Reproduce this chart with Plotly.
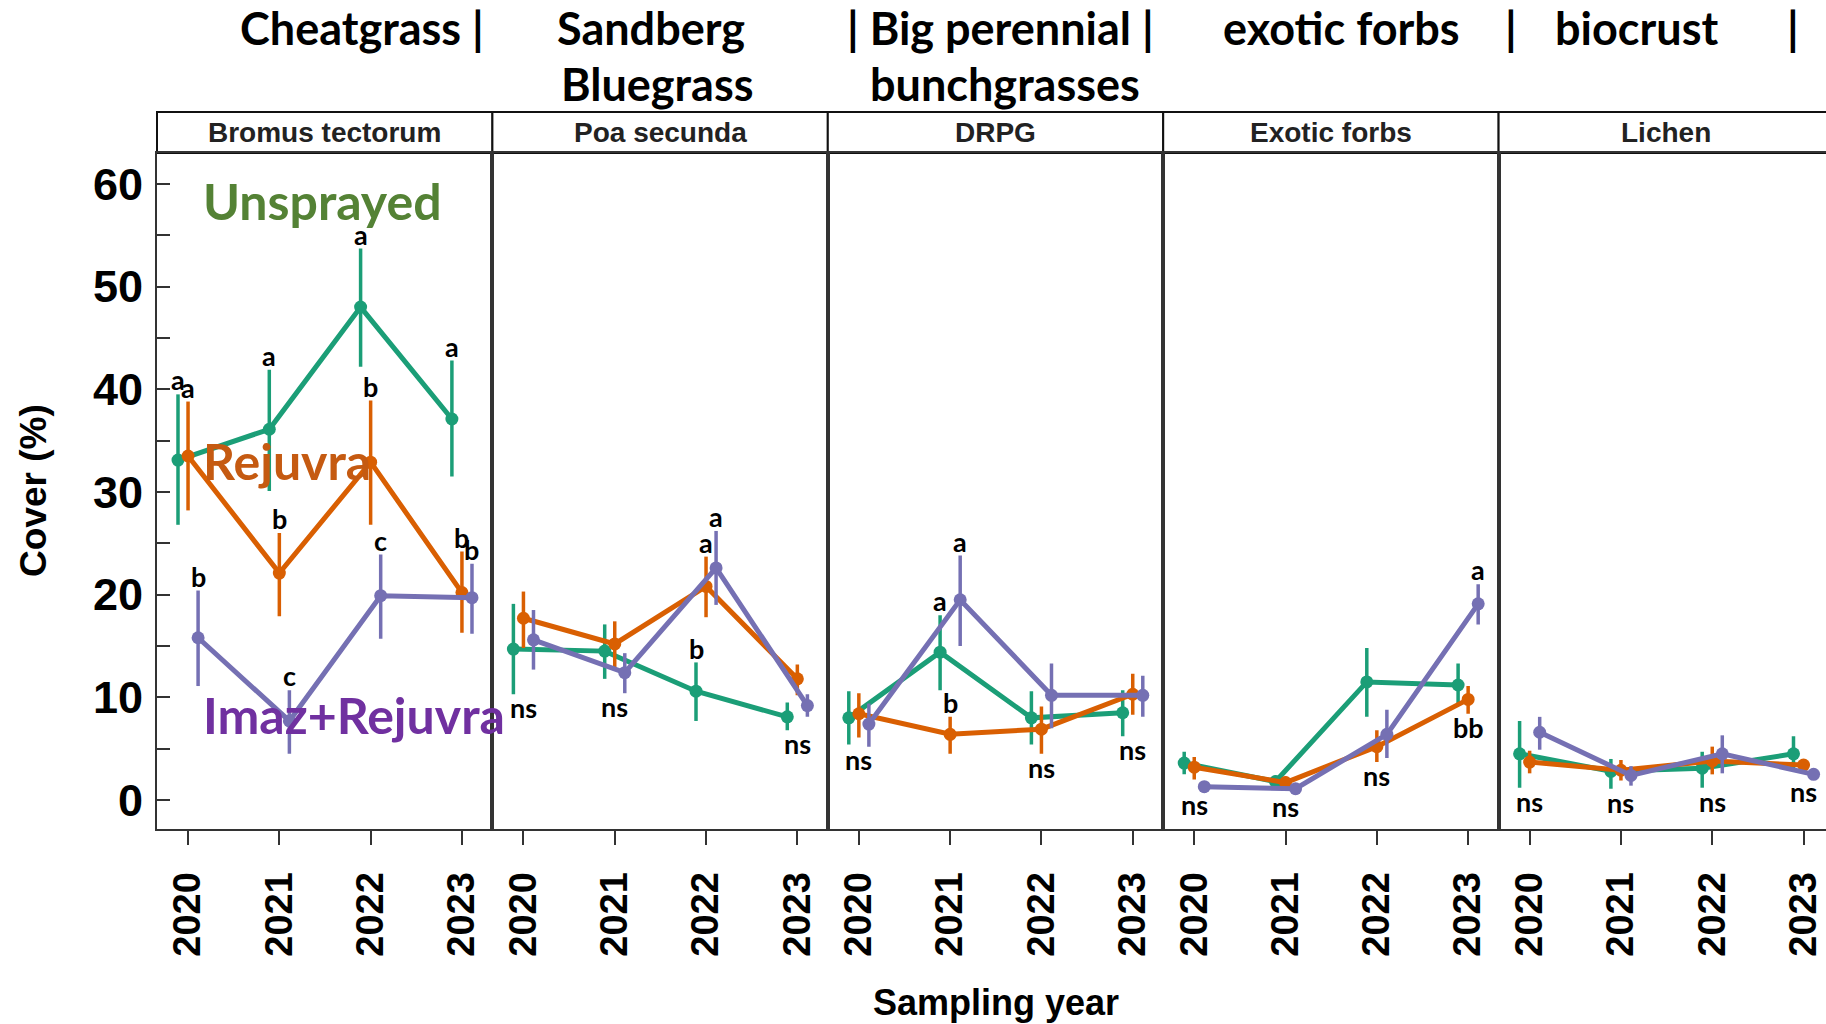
import plotly.graph_objects as go

W, H = 1826, 1024

# ---------------- data ----------------
panels = ["Bromus tectorum", "Poa secunda", "DRPG", "Exotic forbs", "Lichen"]
years = ["2020", "2021", "2022", "2023"]

unsprayed_mean = [
    [33.1, 36.1, 48.0, 37.1],
    [14.7, 14.5, 10.6, 8.1],
    [8.0, 14.4, 8.0, 8.5],
    [3.6, 1.8, 11.5, 11.2],
    [4.5, 2.8, 3.1, 4.5],
]
unsprayed_hi = [
    [39.5, 41.9, 53.7, 42.8],
    [19.1, 17.1, 13.4, 9.5],
    [10.6, 18.0, 10.6, 10.7],
    [4.7, 2.4, 14.8, 13.3],
    [7.7, 4.0, 4.7, 6.2],
]
unsprayed_lo = [
    [26.8, 30.1, 42.2, 31.5],
    [10.3, 11.8, 7.7, 6.8],
    [5.4, 10.7, 5.4, 6.2],
    [2.5, 1.2, 8.1, 9.2],
    [1.2, 1.1, 1.2, 2.9],
]

rejuvra_mean = [
    [33.5, 22.1, 32.9, 20.2],
    [17.7, 15.2, 20.8, 11.8],
    [8.4, 6.4, 6.9, 10.3],
    [3.2, 1.7, 5.2, 9.8],
    [3.7, 2.9, 3.8, 3.4],
]
rejuvra_hi = [
    [38.8, 26.0, 38.9, 24.2],
    [20.3, 17.4, 23.7, 13.2],
    [10.4, 8.1, 9.1, 12.3],
    [4.2, 2.3, 6.8, 11.1],
    [4.8, 3.9, 5.2, 4.0],
]
rejuvra_lo = [
    [28.2, 17.9, 26.8, 16.3],
    [14.8, 12.7, 17.8, 10.2],
    [6.1, 4.5, 4.5, 8.3],
    [2.0, 1.1, 3.7, 8.4],
    [2.6, 1.9, 2.5, 2.9],
]

imaz_mean = [
    [15.8, 7.7, 19.9, 19.7],
    [15.6, 12.4, 22.6, 9.2],
    [7.4, 19.5, 10.2, 10.2],
    [1.3, 1.1, 6.4, 19.1],
    [6.6, 2.4, 4.5, 2.5],
]
imaz_hi = [
    [20.4, 10.7, 23.9, 23.0],
    [18.5, 14.3, 26.2, 10.3],
    [9.4, 23.8, 13.3, 12.1],
    [1.7, 1.5, 8.8, 21.0],
    [8.1, 3.3, 6.3, 2.8],
]
imaz_lo = [
    [11.1, 4.5, 15.7, 16.2],
    [12.7, 10.4, 19.0, 8.1],
    [5.2, 15.0, 7.0, 8.1],
    [0.9, 0.7, 4.1, 17.1],
    [4.9, 1.4, 2.6, 2.1],
]

# significance letters placed above each series' error bar
unsprayed_letters = [
    ["a", "a", "a", "a"],
    ["", "", "b", ""],
    ["", "a", "", ""],
    ["", "", "", ""],
    ["", "", "", ""],
]
rejuvra_letters = [
    ["a", "b", "b", "b"],
    ["", "", "a", ""],
    ["", "b", "", ""],
    ["", "", "", ""],
    ["", "", "", ""],
]
imaz_letters = [
    ["b", "c", "c", "b"],
    ["", "", "a", ""],
    ["", "a", "", ""],
    ["", "", "", "a"],
    ["", "", "", ""],
]
# labels placed below the lowest error bar at each year
below_labels = [
    ["", "", "", ""],
    ["ns", "ns", "", "ns"],
    ["ns", "", "ns", "ns"],
    ["ns", "ns", "ns", "bb"],
    ["ns", "ns", "ns", "ns"],
]

header_row1 = ["Cheatgrass |", "Sandberg", "| Big perennial |", "exotic forbs", "|", "biocrust", "|"]
header_row2 = ["Bluegrass", "bunchgrasses"]
treatments = ["Unsprayed", "Rejuvra", "Imaz+Rejuvra"]

# ---------------- style / layout constants ----------------
LINE_COLORS = ["#1B9E77", "#D95F02", "#7570B3"]
LABEL_COLORS = ["#548235", "#C55A11", "#7030A0"]
DODGE = [-0.11, 0.0, 0.11]
FRAME = "#333333"
ARIAL = "Liberation Sans, Arial, sans-serif"
CALIBRI = "Lato, Carlito, Calibri, sans-serif"

PLOT_L = 157.0
PANEL_W = 335.4
PLOT_TOP = 153.0
PLOT_BOT = 829.0
STRIP_TOP = 112.0
PX_PER_X = 91.3
X0 = 0.66
Y_RANGE = [-2.82, 63.0]

header1_x = [362, 651, 1000, 1341, 1511, 1636, 1793]
header2_x = [657, 1005]
treat_pos = [(201, 201), (201, 461), (201, 715)]


def px(x):
    return x / W


def py(y):
    return (H - y) / H


series = [
    (unsprayed_mean, unsprayed_hi, unsprayed_lo, unsprayed_letters),
    (rejuvra_mean, rejuvra_hi, rejuvra_lo, rejuvra_letters),
    (imaz_mean, imaz_hi, imaz_lo, imaz_letters),
]

fig = go.Figure()
annotations = []
shapes = []
layout_axes = {}

for p, pname in enumerate(panels):
    xa = "x" if p == 0 else f"x{p + 1}"
    ya = "y" if p == 0 else f"y{p + 1}"
    left_px = PLOT_L + PANEL_W * p
    right_px = min(PLOT_L + PANEL_W * (p + 1), W)
    x_end = X0 + (right_px - left_px) / PX_PER_X

    for s, (m, hi, lo, letters) in enumerate(series):
        xs = [i + 1 + DODGE[s] for i in range(len(years))]
        fig.add_trace(go.Scatter(
            x=xs, y=m[p], mode="lines+markers",
            line=dict(color=LINE_COLORS[s], width=5),
            marker=dict(size=13, color=LINE_COLORS[s]),
            error_y=dict(type="data", symmetric=False,
                         array=[h - v for h, v in zip(hi[p], m[p])],
                         arrayminus=[v - l for v, l in zip(m[p], lo[p])],
                         color=LINE_COLORS[s], thickness=3.5, width=0),
            xaxis=xa, yaxis=ya, showlegend=False, hoverinfo="skip",
        ))
        for i, lab in enumerate(letters[p]):
            if lab:
                annotations.append(dict(
                    x=xs[i], y=hi[p][i] + 1.4, xref=xa, yref=ya, text=lab,
                    showarrow=False, xanchor="center", yanchor="middle",
                    font=dict(family=CALIBRI, size=27, color="black", weight="bold"),
                ))
    for i, lab in enumerate(below_labels[p]):
        if lab:
            low = min(unsprayed_lo[p][i], rejuvra_lo[p][i], imaz_lo[p][i])
            if lab == "bb":
                low = min(unsprayed_lo[p][i], rejuvra_lo[p][i])
            annotations.append(dict(
                x=i + 1, y=low - 1.3, xref=xa, yref=ya, text=lab,
                showarrow=False, xanchor="center", yanchor="middle",
                font=dict(family=CALIBRI, size=27, color="black", weight="bold"),
            ))

    xaxis = dict(
        domain=[px(left_px), px(right_px)], range=[X0, x_end], anchor=ya,
        tickmode="array", tickvals=[1, 2, 3, 4], ticktext=years,
        ticks="outside", ticklen=14, tickwidth=2, tickcolor=FRAME,
        tickangle=-90, ticklabelstandoff=12,
        tickfont=dict(family=ARIAL, size=38, color="black", weight="bold"),
        showline=True, linecolor=FRAME, linewidth=2, mirror=True,
        showgrid=False, zeroline=False, fixedrange=True,
    )
    yaxis = dict(
        domain=[py(PLOT_BOT), py(PLOT_TOP)], range=Y_RANGE, anchor=xa,
        showline=True, linecolor=FRAME, linewidth=2, mirror=(p < len(panels) - 1),
        showgrid=False, zeroline=False, fixedrange=True,
    )
    if p == 0:
        yaxis.update(
            tickmode="linear", tick0=0, dtick=10, ticks="inside", ticklen=13,
            tickwidth=2, tickcolor=FRAME, ticklabelstandoff=3,
            tickfont=dict(family=ARIAL, size=45, color="black", weight="bold"),
            minor=dict(tick0=0, dtick=5, ticks="inside", ticklen=13, tickwidth=2, tickcolor=FRAME),
        )
    else:
        yaxis.update(showticklabels=False, ticks="")
    layout_axes["xaxis" if p == 0 else f"xaxis{p + 1}"] = xaxis
    layout_axes["yaxis" if p == 0 else f"yaxis{p + 1}"] = yaxis

    # strip
    shapes.append(dict(type="rect", xref="paper", yref="paper",
                       x0=px(left_px), x1=px(PLOT_L + PANEL_W * (p + 1)),
                       y0=py(PLOT_TOP), y1=py(STRIP_TOP),
                       line=dict(color="#111111", width=2), fillcolor="white", layer="below"))
    annotations.append(dict(
        x=px(left_px + PANEL_W / 2), y=py((STRIP_TOP + PLOT_TOP) / 2), xref="paper", yref="paper",
        text=pname, showarrow=False, xanchor="center", yanchor="middle",
        font=dict(family=ARIAL, size=28, color="#222222", weight="bold"),
    ))

# header
for txt, xc in zip(header_row1, header1_x):
    annotations.append(dict(x=px(xc), y=py(28), xref="paper", yref="paper", text=txt,
                            showarrow=False, xanchor="center", yanchor="middle",
                            font=dict(family=CALIBRI, size=45, color="black", weight="bold")))
for txt, xc in zip(header_row2, header2_x):
    annotations.append(dict(x=px(xc), y=py(84), xref="paper", yref="paper", text=txt,
                            showarrow=False, xanchor="center", yanchor="middle",
                            font=dict(family=CALIBRI, size=45, color="black", weight="bold")))

# treatment labels
for txt, col, (xl, yc) in zip(treatments, LABEL_COLORS, treat_pos):
    annotations.append(dict(x=px(xl), y=py(yc), xref="paper", yref="paper", text=txt,
                            showarrow=False, xanchor="left", yanchor="middle",
                            font=dict(family=CALIBRI, size=50, color=col, weight="bold")))

# axis titles
annotations.append(dict(x=px(33), y=py(491), xref="paper", yref="paper", text="Cover (%)",
                        showarrow=False, textangle=-90, xanchor="center", yanchor="middle",
                        font=dict(family=ARIAL, size=37, color="black", weight="bold")))
annotations.append(dict(x=px(996), y=py(1002), xref="paper", yref="paper", text="Sampling year",
                        showarrow=False, xanchor="center", yanchor="middle",
                        font=dict(family=ARIAL, size=36, color="black", weight="bold")))

fig.update_layout(
    width=W, height=H, margin=dict(l=0, r=0, t=0, b=0),
    paper_bgcolor="white", plot_bgcolor="white",
    annotations=annotations, shapes=shapes, **layout_axes,
)

fig.write_html("out.html", config={"displayModeBar": False})
